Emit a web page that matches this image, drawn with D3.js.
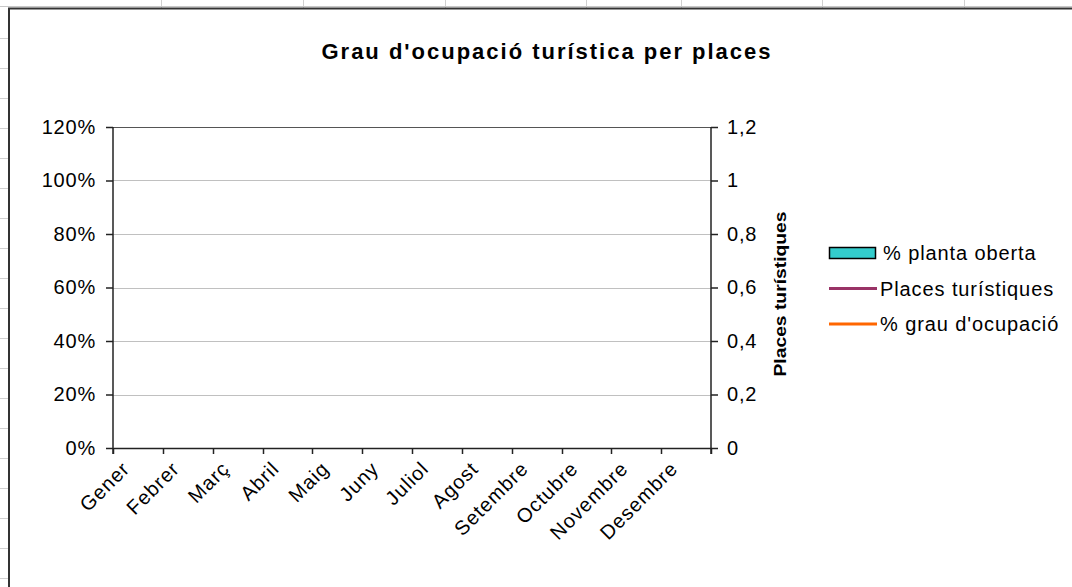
<!DOCTYPE html>
<html>
<head>
<meta charset="utf-8">
<script src="https://cdn.jsdelivr.net/npm/d3@7"></script>
<style>
  body { margin: 0; background: #fff; }
  svg { display: block; font-family: "Liberation Sans", Arial, sans-serif; }
  .tick text { fill: #000; }
</style>
</head>
<body>
<svg id="chart"></svg>
<script>
// chart values
var months = ["Gener", "Febrer", "Març", "Abril", "Maig", "Juny", "Juliol", "Agost", "Setembre", "Octubre", "Novembre", "Desembre"];
var plantaOberta = [null, null, null, null, null, null, null, null, null, null, null, null];
var placesTuristiques = [null, null, null, null, null, null, null, null, null, null, null, null];
var grauOcupacio = [null, null, null, null, null, null, null, null, null, null, null, null];
var leftTicks = [0, 0.2, 0.4, 0.6, 0.8, 1, 1.2];
var leftTickLabels = ["0%", "20%", "40%", "60%", "80%", "100%", "120%"];
var rightTicks = [0, 0.2, 0.4, 0.6, 0.8, 1, 1.2];
var rightTickLabels = ["0", "0,2", "0,4", "0,6", "0,8", "1", "1,2"];
var legendItems = ["% planta oberta", "Places turístiques", "% grau d'ocupació"];
var legendColors = ["#33CCCC", "#993366", "#FF6600"];

var W = 1072, H = 587;
var margin = { top: 127, right: 361, bottom: 139, left: 113 },
  width = W - margin.left - margin.right,
  height = H - margin.top - margin.bottom;

var root = d3.select("#chart").attr("width", W).attr("height", H);

// spreadsheet cells behind the chart object
var colEdges = [161, 303, 445, 586, 681, 822, 964];
root.selectAll(".colEdge").data(colEdges).enter().append("line")
  .attr("x1", d => d + 0.5).attr("x2", d => d + 0.5)
  .attr("y1", 0).attr("y2", 8)
  .attr("stroke", "#d0d0d0");
root.selectAll(".rowEdge").data(d3.range(38, H, 30)).enter().append("line")
  .attr("x1", 0).attr("x2", 9)
  .attr("y1", d => d + 0.5).attr("y2", d => d + 0.5)
  .attr("stroke", "#d0d0d0");
root.append("line").attr("x1", 0).attr("x2", W).attr("y1", 6.5).attr("y2", 6.5).attr("stroke", "#c8c8c8");

// chart object border (top and left visible)
root.append("path")
  .attr("d", "M9," + H + "V8.5H" + W)
  .attr("fill", "none").attr("stroke", "#333").attr("stroke-width", 2);

root.append("text")
  .attr("x", 546).attr("y", 59)
  .attr("text-anchor", "middle")
  .style("font-size", "22px").style("font-weight", "bold")
  .attr("textLength", 449).attr("lengthAdjust", "spacing")
  .text("Grau d'ocupació turística per places");

var svg = root.append("g")
  .attr("transform", "translate(" + margin.left + "," + margin.top + ")");

var x = d3.scaleBand().range([0, width]).domain(months);
var y = d3.scaleLinear().range([height, 0]).domain([0, 1.2]);
var y2 = d3.scaleLinear().range([height, 0]).domain([0, 1.2]);

// gridlines
svg.selectAll(".grid").data(leftTicks.slice(1)).enter().append("line")
  .attr("x1", 0).attr("x2", width)
  .attr("y1", d => Math.round(y(d)) + 0.5).attr("y2", d => Math.round(y(d)) + 0.5)
  .attr("stroke", d => d === 1.2 ? "#555" : "#c0c0c0");

// bars and lines (no values in source)
svg.selectAll(".bar").data(plantaOberta.map((v, i) => ({ m: months[i], v: v })).filter(d => d.v != null))
  .enter().append("rect")
  .attr("x", d => x(d.m) + x.bandwidth() * 0.2).attr("width", x.bandwidth() * 0.6)
  .attr("y", d => y(d.v)).attr("height", d => height - y(d.v))
  .attr("fill", legendColors[0]).attr("stroke", "#000");
var line = d3.line().defined(d => d.v != null).x(d => x(d.m) + x.bandwidth() / 2);
svg.append("path").datum(placesTuristiques.map((v, i) => ({ m: months[i], v: v })))
  .attr("fill", "none").attr("stroke", legendColors[1]).attr("stroke-width", 2)
  .attr("d", line.y(d => y2(d.v)));
svg.append("path").datum(grauOcupacio.map((v, i) => ({ m: months[i], v: v })))
  .attr("fill", "none").attr("stroke", legendColors[2]).attr("stroke-width", 2)
  .attr("d", line.y(d => y(d.v)));

// left axis
var axL = svg.append("g")
  .call(d3.axisLeft(y).tickValues(leftTicks).tickSize(7).tickPadding(10)
    .tickFormat((d, i) => leftTickLabels[i]));
// right axis
var axR = svg.append("g")
  .attr("transform", "translate(" + width + ",0)")
  .call(d3.axisRight(y2).tickValues(rightTicks).tickSize(7).tickPadding(9)
    .tickFormat((d, i) => rightTickLabels[i]));
// bottom axis, ticks at band edges
var axB = svg.append("g")
  .attr("transform", "translate(0," + height + ")")
  .call(d3.axisBottom(x).tickSize(0).tickFormat(""));
axB.selectAll(".edge").data(d3.range(months.length + 1)).enter().append("line")
  .attr("x1", i => Math.round(i * x.step()) + 0.5).attr("x2", i => Math.round(i * x.step()) + 0.5)
  .attr("y1", 0).attr("y2", 6).attr("stroke", "#222").attr("stroke-width", 1.5);
axB.selectAll(".lbl").data(months).enter().append("text")
  .attr("transform", d => "translate(" + (x(d) + x.bandwidth() / 2 - 7) + ",22) rotate(-45)")
  .attr("text-anchor", "end")
  .attr("fill", "#000")
  .style("font-size", "20px").attr("letter-spacing", "1px")
  .text(d => d);

[axL, axR, axB].forEach(a => {
  a.selectAll(".domain").attr("stroke", "#222").attr("stroke-width", 1.5);
  a.selectAll(".tick line").attr("stroke", "#222").attr("stroke-width", 1.5);
  a.selectAll(".tick text").style("font-size", "20px").attr("letter-spacing", "0.8px");
});
axL.select(".domain").attr("d", "M0,0V" + (height + 6));
axR.select(".domain").attr("d", "M0,0V" + (height + 6));

// right axis title
root.append("text")
  .attr("transform", "translate(786,294) rotate(-90)")
  .attr("text-anchor", "middle")
  .style("font-size", "17px").style("font-weight", "bold")
  .attr("textLength", 165).attr("lengthAdjust", "spacingAndGlyphs")
  .text("Places turístiques");

// legend
var lg = root.append("g").attr("transform", "translate(829,253)");
var item = lg.selectAll(".item").data(legendItems).enter().append("g")
  .attr("transform", (d, i) => "translate(0," + (i * 35.5) + ")");
item.filter((d, i) => i === 0).append("rect")
  .attr("x", 0.5).attr("y", -5.5).attr("width", 46).attr("height", 11)
  .attr("fill", legendColors[0]).attr("stroke", "#000").attr("stroke-width", 1.5);
item.filter((d, i) => i > 0).append("line")
  .attr("x1", 0).attr("x2", 48).attr("y1", 0).attr("y2", 0)
  .attr("stroke", (d, i) => legendColors[i + 1]).attr("stroke-width", 3);
item.append("text")
  .attr("x", d => d === legendItems[0] ? 54 : 51).attr("y", 7)
  .style("font-size", "20px").attr("letter-spacing", "0.9px")
  .attr("fill", "#000")
  .text(d => d);
</script>
</body>
</html>
